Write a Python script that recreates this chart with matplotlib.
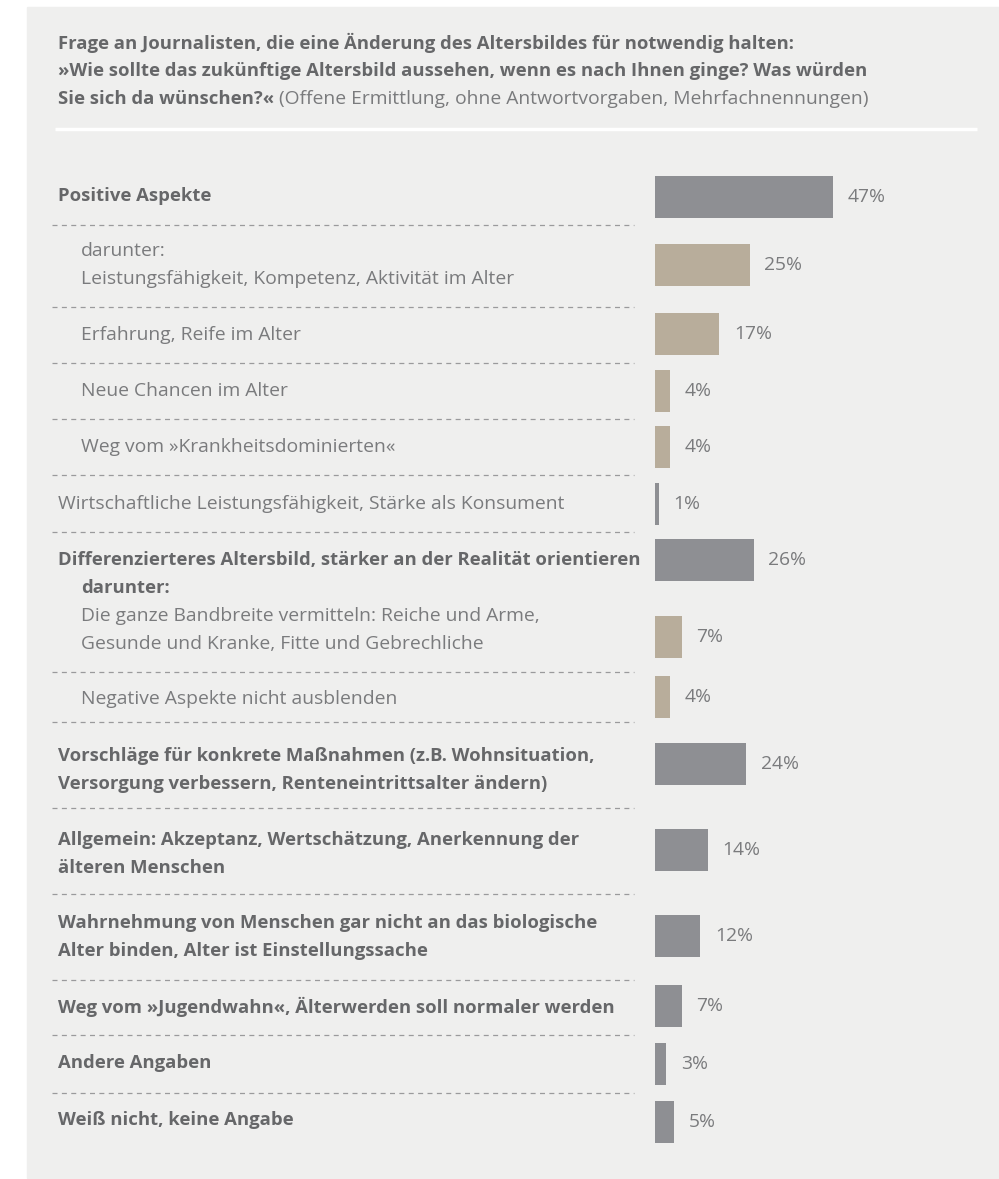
import matplotlib.pyplot as plt
from matplotlib.patches import Rectangle

# --- data -------------------------------------------------------------
labels = [
    "Positive Aspekte",
    "darunter:\nLeistungsfähigkeit, Kompetenz, Aktivität im Alter",
    "Erfahrung, Reife im Alter",
    "Neue Chancen im Alter",
    "Weg vom »Krankheitsdominierten«",
    "Wirtschaftliche Leistungsfähigkeit, Stärke als Konsument",
    "Differenzierteres Altersbild, stärker an der Realität orientieren",
    "Die ganze Bandbreite vermitteln: Reiche und Arme,\nGesunde und Kranke, Fitte und Gebrechliche",
    "Negative Aspekte nicht ausblenden",
    "Vorschläge für konkrete Maßnahmen (z.B. Wohnsituation,\nVersorgung verbessern, Renteneintrittsalter ändern)",
    "Allgemein: Akzeptanz, Wertschätzung, Anerkennung der\nälteren Menschen",
    "Wahrnehmung von Menschen gar nicht an das biologische\nAlter binden, Alter ist Einstellungssache",
    "Weg vom »Jugendwahn«, Älterwerden soll normaler werden",
    "Andere Angaben",
    "Weiß nicht, keine Angabe",
]
values = [47, 25, 17, 4, 4, 1, 26, 7, 4, 24, 14, 12, 7, 3, 5]
# "main" = bold top-level answer, "sub" = indented sub answer, "plain" = top-level, normal weight
kind = ["main", "sub", "sub", "sub", "sub", "plain", "main", "sub", "sub",
        "main", "main", "main", "main", "main", "main"]

title_bold = ["Frage an Journalisten, die eine Änderung des Altersbildes für notwendig halten:",
              "»Wie sollte das zukünftige Altersbild aussehen, wenn es nach Ihnen ginge? Was würden",
              "Sie sich da wünschen?«"]
title_note = " (Offene Ermittlung, ohne Antwortvorgaben, Mehrfachnennungen)"

# --- layout (pixels) --------------------------------------------------
W, H = 999, 1179
bar_y = [197, 265, 334, 391, 447, 504, 560, 637, 697, 764, 850, 936, 1006, 1064, 1122]
text_y = [196, 265, 335, 391, 447, 504, 560, 630, 699, 770, 854, 937, 1007, 1063, 1120]
sep_y = [225, 307, 363, 419, 475, 532, 672, 722, 808, 894, 980, 1035, 1093]
line_h = 28
bar_left = 655
px_per_pct = 3.79

bg = "#efefee"
dark = "#8e8f93"
beige = "#b8ad9b"
txt_bold = "#666769"
txt_norm = "#7a7b7d"

plt.rcParams['font.family'] = ['Open Sans', 'DejaVu Sans']
fs_b = 13.3
fs_n = 13.9

fig = plt.figure(figsize=(W / 100, H / 100), dpi=100)
fig.patch.set_facecolor("white")
ax = fig.add_axes([0, 0, 1, 1])
ax.set_xlim(0, W)
ax.set_ylim(H, 0)
ax.axis("off")

ax.add_patch(Rectangle((27, 7), W - 27, H - 8, color=bg, zorder=0))

# title
for i, line in enumerate(title_bold):
    t = ax.text(58, 43 + i * line_h, line, fontsize=fs_b, fontweight="bold",
                color=txt_bold, va="center")
ax.annotate(title_note, xy=(1, 43 + 2 * line_h), xycoords=(t, "data"),
            fontsize=fs_n, color=txt_norm, va="center")
ax.plot([55, 977], [129, 129], color="white", lw=2.5, solid_capstyle="butt")

# separators
for y in sep_y:
    ax.plot([52, 634], [y, y], color="#9a9a9c", lw=0.9, ls=(0, (4, 3.5)))

# row labels
for lab, k, yc in zip(labels, kind, text_y):
    lines = lab.split("\n")
    x = 81 if k == "sub" else 58
    for j, ln in enumerate(lines):
        y = yc + (j - (len(lines) - 1) / 2) * line_h
        ax.text(x, y, ln, va="center",
                fontsize=fs_b if k == "main" else fs_n,
                fontweight="bold" if k == "main" else "normal",
                color=txt_bold if k == "main" else txt_norm)
ax.text(81, 588, "darunter:", fontsize=fs_b, va="center", fontweight="bold", color=txt_bold)

# bars
bx = fig.add_axes([bar_left / W, 0, 1 - bar_left / W, 1])
bx.set_xlim(0, (W - bar_left) / px_per_pct)
bx.set_ylim(H, 0)
bx.axis("off")
colors = [beige if k == "sub" else dark for k in kind]
bx.barh(bar_y, values, height=42, color=colors)
for v, y in zip(values, bar_y):
    bx.annotate(f"{v}%", xy=(v, y), xytext=(10.5, 0), textcoords="offset points",
                fontsize=fs_n, color=txt_norm, va="center")

fig.savefig("out.png", dpi=100, facecolor="white")
